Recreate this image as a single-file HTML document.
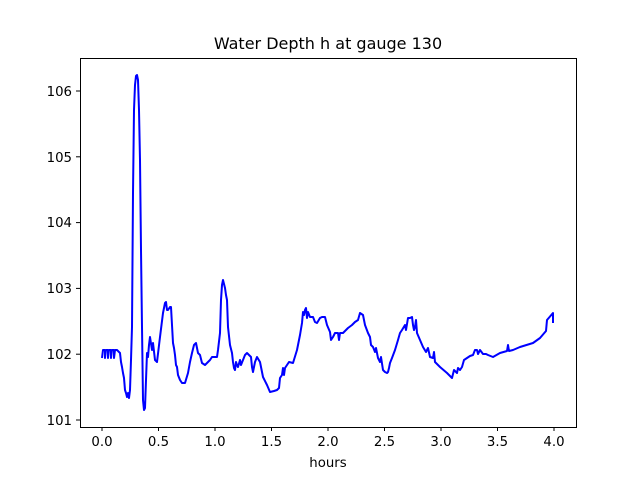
<!DOCTYPE html>
<html><head><style>body{margin:0;background:#fff}svg{display:block}text{font-family:"DejaVu Sans","Liberation Sans",sans-serif;font-size:13.3px;fill:#000}</style></head>
<body>
<svg width="640" height="480" viewBox="0 0 640 480">
<rect width="640" height="480" fill="#fff"/>
<text x="328" y="49" text-anchor="middle" style="font-size:16px">Water Depth h at gauge 130</text>
<polyline fill="none" stroke="#0000ff" stroke-width="2" stroke-linejoin="round" points="
102,358 103,350 105,350 105,358 106,350 108,350 108,358 109,350 111,350 111,358 112,350 114,350 114,358 115,350 117,350 120,353 121,362 122,367 123,373 124,378 125,390 126,393 127,397 128,393 129,398 130,390 131,360 132,327 133,193 134,110 135,85 136,76 137,75 138,80 139,110 140,160 141,250 142,327 143,400 144,410 145,408 146,380 147,353 148,357 149,345 150,337 152,350 153,343 155,360 157,362 160,337 163,313 165,303 166,302 167,310 168,310 170,307 171,307 173,343 174,348 175,355 176,365 177,367 178,375 180,380 182,383 185,383 188,373 190,362 192,353 194,345 196,343 198,353 200,355 202,363 205,365 208,362 210,360 212,357 217,357 218,350 220,333 221,300 222,285 223,280 225,288 226,295 227,300 228,327 230,345 232,353 233,362 234,368 235,370 236,362 237,365 238,367 240,360 241,365 243,360 245,355 247,353 249,355 251,357 252,367 253,372 255,362 257,357 260,362 263,377 267,385 270,392 274,391 277,390 279,388 280,378 282,375 283,368 284,375 285,368 289,362 293,363 297,350 300,335 302,323 303,312 304,315 305,310 306,308 307,318 308,312 310,317 313,317 315,322 317,323 320,318 322,317 325,317 327,325 330,332 331,340 333,337 335,333 338,333 339,340 340,333 343,333 346,330 348,328 352,325 355,322 358,320 360,313 363,315 365,325 368,333 370,337 371,345 373,347 375,352 376,348 378,358 380,362 381,357 383,370 385,372 387,373 388,372 389,368 390,363 392,358 395,350 398,340 400,333 402,330 405,325 406,330 408,318 410,318 412,317 413,325 414,330 415,327 416,320 417,333 420,340 423,347 426,352 428,348 430,357 433,358 434,352 435,362 440,367 447,373 450,376 452,378 454,370 457,373 458,368 460,370 462,367 464,360 467,358 470,356 473,355 475,350 477,350 478,354 480,350 483,354 486,354 488,355 493,357 500,353 507,351 508,345 509,351 513,350 520,347 533,343 540,338 546,331 547,320 553,313 553,323"/>
<rect x="80.5" y="58.5" width="496" height="369" fill="none" stroke="#000" stroke-width="1"/>
<g stroke="#000" stroke-width="1">
<line x1="102" y1="427" x2="102" y2="431"/><line x1="158.5" y1="427" x2="158.5" y2="431"/><line x1="215" y1="427" x2="215" y2="431"/><line x1="271.5" y1="427" x2="271.5" y2="431"/><line x1="328" y1="427" x2="328" y2="431"/><line x1="384.5" y1="427" x2="384.5" y2="431"/><line x1="441" y1="427" x2="441" y2="431"/><line x1="497.5" y1="427" x2="497.5" y2="431"/><line x1="554" y1="427" x2="554" y2="431"/>
<line x1="76" y1="420" x2="80" y2="420"/><line x1="76" y1="354.2" x2="80" y2="354.2"/><line x1="76" y1="288.4" x2="80" y2="288.4"/><line x1="76" y1="222.6" x2="80" y2="222.6"/><line x1="76" y1="156.8" x2="80" y2="156.8"/><line x1="76" y1="91" x2="80" y2="91"/>
</g>
<g text-anchor="middle">
<text x="102" y="446">0.0</text><text x="158.5" y="446">0.5</text><text x="215" y="446">1.0</text><text x="271.5" y="446">1.5</text><text x="328" y="446">2.0</text><text x="384.5" y="446">2.5</text><text x="441" y="446">3.0</text><text x="497.5" y="446">3.5</text><text x="554" y="446">4.0</text>
<text x="328" y="467">hours</text>
</g>
<g text-anchor="end">
<text x="72" y="425">101</text><text x="72" y="359">102</text><text x="72" y="293">103</text><text x="72" y="227">104</text><text x="72" y="162">105</text><text x="72" y="96">106</text>
</g>
</svg>
</body></html>
